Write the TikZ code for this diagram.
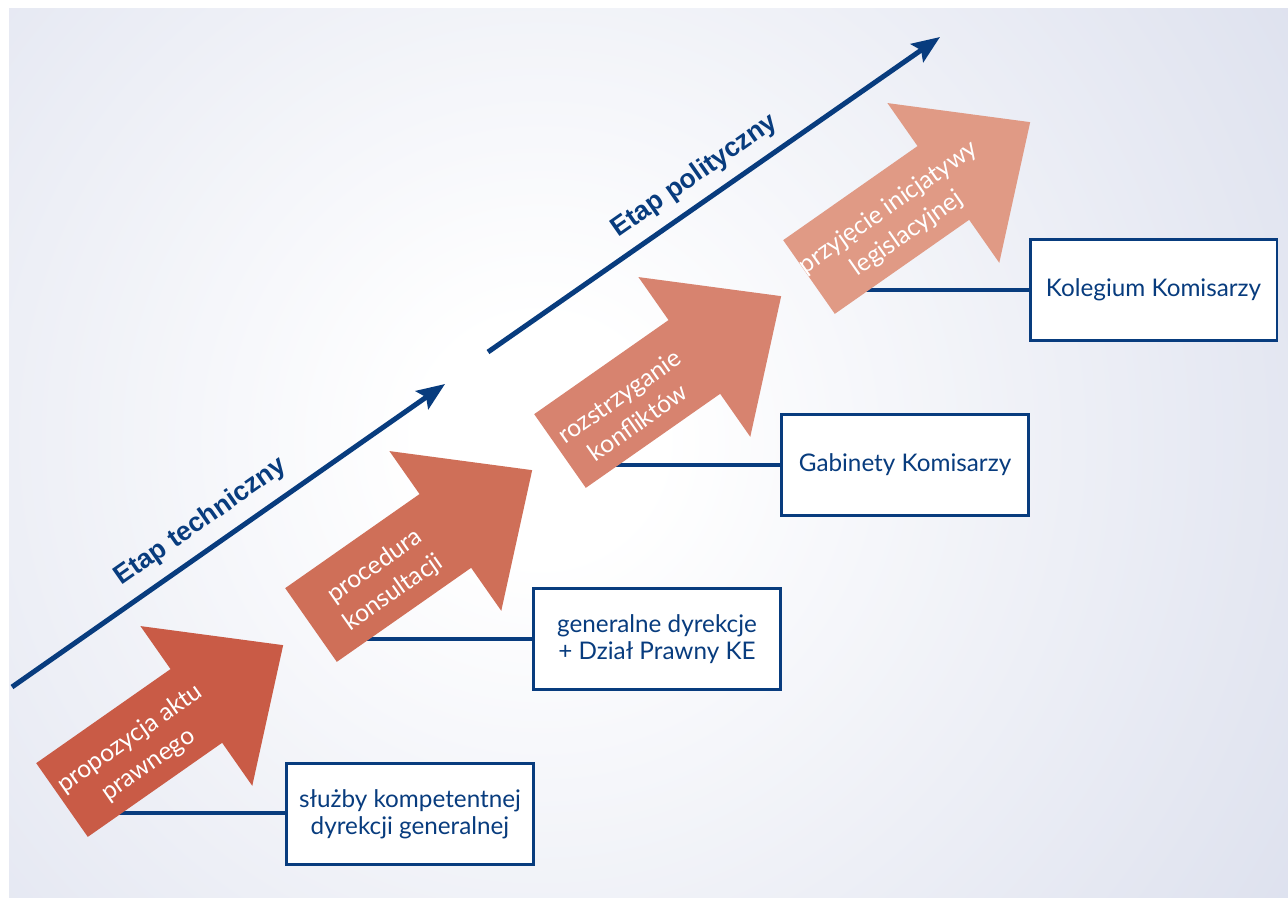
\documentclass[tikz,border=0pt]{standalone}
\usepackage{fontspec}
\setmainfont{Lato}
\newfontfamily\phasefont{Liberation Sans}
\usetikzlibrary{arrows.meta}

\definecolor{navy}{HTML}{083C7E}
\definecolor{paneledge}{HTML}{C9CFE4}
\definecolor{stageA}{HTML}{C95B46}
\definecolor{stageB}{HTML}{CF6F58}
\definecolor{stageC}{HTML}{D7836F}
\definecolor{stageD}{HTML}{E09A85}

% soft glow of the background panel (outer tone reached at 34bp of 50bp)
\pgfdeclareradialshading{panelglow}{\pgfpoint{0bp}{0bp}}{%
  color(0bp)=(white); color(3bp)=(white); color(34bp)=(paneledge); color(50bp)=(paneledge)}

\tikzset{
  phaseline/.style={draw=navy, line width=3.75pt,
    -{Stealth[length=21pt, width=16.5pt, inset=3.75pt]}},
  phaselabel/.style={text=navy, font=\phasefont\bfseries\fontsize{20}{24}\selectfont,
    rotate=35, inner sep=0pt},
  linkline/.style={draw=navy, line width=3pt},
  unitbox/.style={draw=navy, fill=white, line width=2pt, text=navy,
    minimum width=185pt, minimum height=76pt, align=center, inner sep=2pt,
    font=\fontsize{18.2}{20.5}\selectfont},
  arrowtext/.style={text=white, align=center, rotate=35, inner sep=0pt,
    font=\fontsize{18.5}{24}\selectfont},
}

% #1 tail centre, #2 colour, #3 label name, #4 label offset along the shaft, #5 label
\newcommand\StageArrow[5]{%
  \begin{scope}[shift={#1}, rotate=35]
    \fill[#2] (0,-45) -- (164,-45) -- (164,-97.5) -- (270,0)
      -- (164,97.5) -- (164,45) -- (0,45) -- cycle;
    \node[arrowtext] (#3) at (#4,-5) {#5};
  \end{scope}}

\begin{document}
\begin{tikzpicture}[x=0.75pt, y=0.75pt]
  \useasboundingbox (0,0) rectangle (1288,-897);
  \fill[white] (0,0) rectangle (1288,-897);
  \begin{scope}
    \clip (9,-8) rectangle (1288,-897);
    \fill[paneledge] (9,-8) rectangle (1288,-897);
    \shade[shading=panelglow] (540,-440) circle (1000);
  \end{scope}

  % the two phases
  \coordinate (techStart) at (12,-687);
  \coordinate (techEnd) at (445,-384);
  \coordinate (polStart) at (488,-352);
  \coordinate (polEnd) at (940,-37);
  \draw[phaseline] (techStart) -- (techEnd);
  \draw[phaseline] (polStart) -- (polEnd);
  \node[phaselabel] (techLabel) at (201,-522) {Etap techniczny};
  \node[phaselabel] (polLabel) at (695,-176) {Etap polityczny};

  % responsible units
  \node[unitbox] (unitA) at (410,-814) {służby kompetentnej\\dyrekcji generalnej};
  \node[unitbox] (unitB) at (657,-639) {generalne dyrekcje\\+ Dział Prawny KE};
  \node[unitbox] (unitC) at (905,-465) {Gabinety Komisarzy};
  \node[unitbox] (unitD) at (1153.5,-290) {Kolegium Komisarzy};

  % links start under the stage arrows, which are drawn over them
  \coordinate (linkA) at (110,-813);
  \coordinate (linkB) at (358,-639);
  \coordinate (linkC) at (606,-465);
  \coordinate (linkD) at (854,-290);
  \draw[linkline] (linkA) -- (linkA -| unitA.west);
  \draw[linkline] (linkB) -- (linkB -| unitB.west);
  \draw[linkline] (linkC) -- (linkC -| unitC.west);
  \draw[linkline] (linkD) -- (linkD -| unitD.west);

  % procedure stages
  \StageArrow{(62,-800)}{stageA}{stageA}{91}{propozycja aktu\\prawnego}
  \StageArrow{(311,-625)}{stageB}{stageB}{86}{procedura\\konsultacji}
  \StageArrow{(560,-451)}{stageC}{stageC}{80}{rozstrzyganie\\konfliktów}
  \StageArrow{(809,-277)}{stageD}{stageD}{105}{przyjęcie inicjatywy\\legislacyjnej}
\end{tikzpicture}
\end{document}
